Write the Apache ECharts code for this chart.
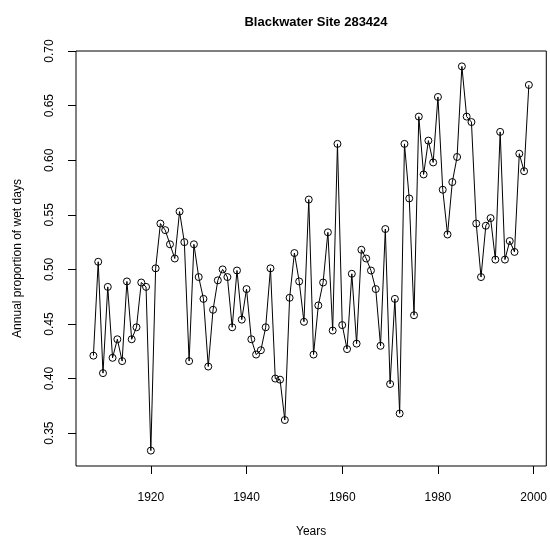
<!DOCTYPE html>
<html>
<head>
<meta charset="utf-8">
<script src="https://cdn.jsdelivr.net/npm/echarts@6/dist/echarts.min.js"></script>
<style>
html,body{margin:0;padding:0;background:#fff;}
#chart{width:550px;height:543px;}
</style>
</head>
<body>
<div id="chart"></div>
<script>
const years = [];
for (let y = 1908; y <= 1999; y++) years.push(y);
const wetProportion = [
  0.421, 0.507, 0.405, 0.484, 0.419, 0.436, 0.416, 0.489, 0.436, 0.447,
  0.488, 0.484, 0.334, 0.501, 0.542, 0.536, 0.523, 0.510, 0.553, 0.525,
  0.416, 0.523, 0.493, 0.473, 0.411, 0.463, 0.490, 0.500, 0.493, 0.447,
  0.499, 0.454, 0.482, 0.436, 0.422, 0.426, 0.447, 0.501, 0.400, 0.399,
  0.362, 0.474, 0.515, 0.489, 0.452, 0.564, 0.422, 0.467, 0.488, 0.534,
  0.444, 0.615, 0.449, 0.427, 0.496, 0.432, 0.518, 0.510, 0.499, 0.482,
  0.430, 0.537, 0.395, 0.473, 0.368, 0.615, 0.565, 0.458, 0.640, 0.587,
  0.618, 0.598, 0.658, 0.573, 0.532, 0.580, 0.603, 0.686, 0.640, 0.635,
  0.542, 0.493, 0.540, 0.547, 0.509, 0.626, 0.509, 0.526, 0.516, 0.606,
  0.590, 0.669
];
const xTicks = [1920, 1940, 1960, 1980, 2000];
const yTicks = [0.35, 0.40, 0.45, 0.50, 0.55, 0.60, 0.65, 0.70];

const chart = echarts.init(document.getElementById('chart'), null, {renderer: 'canvas'});
const font = 'Liberation Sans, Arial, Helvetica, sans-serif';
chart.setOption({
  animation: false,
  backgroundColor: '#fff',
  title: {
    text: 'Blackwater Site 283424',
    left: 311, top: 11, textAlign: 'center',
    textStyle: {fontFamily: font, fontSize: 13, fontWeight: 'bold', color: '#000'}
  },
  grid: {
    left: 76, right: 3, top: 51, bottom: 73,
    show: true, borderColor: '#000', borderWidth: 1, backgroundColor: 'transparent'
  },
  xAxis: {
    type: 'value', min: 1904.36, max: 2002.64,
    name: 'Years', nameLocation: 'middle', nameGap: 60,
    nameTextStyle: {fontFamily: font, fontSize: 12, color: '#000'},
    axisLine: {show: false},
    splitLine: {show: false},
    axisTick: {show: true, length: 8, lineStyle: {color: '#000'}, customValues: xTicks},
    axisLabel: {fontFamily: font, fontSize: 12, color: '#000', margin: 26, customValues: xTicks,
      formatter: v => String(v)}
  },
  yAxis: {
    type: 'value', min: 0.3199, max: 0.7001,
    name: 'Annual proportion of wet days', nameLocation: 'middle', nameGap: 52,
    nameTextStyle: {fontFamily: font, fontSize: 12, color: '#000'},
    axisLine: {show: false},
    splitLine: {show: false},
    axisTick: {show: true, length: 8, lineStyle: {color: '#000'}, customValues: yTicks},
    axisLabel: {fontFamily: font, fontSize: 12, color: '#000', margin: 20, rotate: 90,
      customValues: yTicks, formatter: v => v.toFixed(2)}
  },
  series: [{
    type: 'line',
    data: years.map((y, i) => [y, wetProportion[i]]),
    symbol: 'circle', symbolSize: 7, showAllSymbol: true,
    lineStyle: {color: '#000', width: 1},
    itemStyle: {color: 'rgba(0,0,0,0)', borderColor: '#000', borderWidth: 1},
    emphasis: {disabled: true}
  }]
});
</script>
</body>
</html>
